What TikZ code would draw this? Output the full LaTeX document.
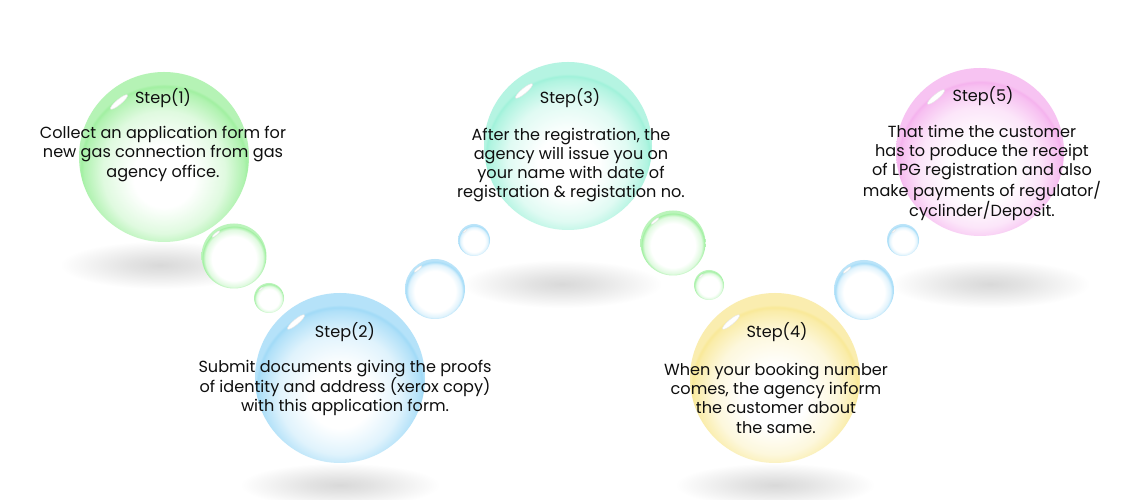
\documentclass[tikz,border=0pt]{standalone}
\usepackage{fontspec}
\setmainfont{Poppins}
\usetikzlibrary{calc}
\definecolor{cG}{RGB}{150,238,150}
\definecolor{cB}{RGB}{150,214,246}
\definecolor{cC}{RGB}{150,240,214}
\definecolor{cY}{RGB}{248,230,140}
\definecolor{cP}{RGB}{244,170,236}
\definecolor{txt}{RGB}{15,15,15}
\newcommand{\declbig}[2]{%
  \pgfdeclareradialshading{big#1}{\pgfpoint{0bp}{-7bp}}{color(0bp)=(white); color(9bp)=(white); color(18bp)=(#2!30); color(23.5bp)=(#2!75); color(24.4bp)=(#2!90); color(25bp)=(#2!70); color(50bp)=(#2!70)}%
  \pgfdeclareradialshading{small#1}{\pgfpoint{0bp}{-3bp}}{color(0bp)=(white); color(17bp)=(white); color(22bp)=(#2!30); color(24.3bp)=(#2!90); color(25bp)=(#2!65); color(50bp)=(#2!65)}%
}
\declbig{G}{cG}
\declbig{B}{cB}
\declbig{C}{cC}
\declbig{Y}{cY}
\declbig{P}{cP}
\pgfdeclareradialshading{shadowsh}{\pgfpoint{0bp}{0bp}}{color(0bp)=(black!15); color(8bp)=(black!11); color(25bp)=(white); color(50bp)=(white)}
\tikzset{
  bubble/.style={circle, inner sep=0pt, minimum size=#1},
  steptext/.style={align=center, text=txt, font={\fontsize{16.1}{19.3}\selectfont}},
  steplabel/.style={text=txt, font={\fontsize{16.1}{19}\selectfont}},
  gloss/.style={fill=white, draw=black!10, line width=0.4pt}
}
\newcommand{\glint}[4]{% coordinate, dx, dy, size factor
  \begin{scope}[shift={($(#1)+(#2,#3)$)}, rotate=40]
    \path[gloss] (0,0) ellipse ({11*#4} and {2.6*#4});
  \end{scope}}
\begin{document}
\begin{tikzpicture}[x=1pt,y=1pt]
\fill[white] (0,0) rectangle (1140,500);
\useasboundingbox (0,0) rectangle (1140,500);
% shadows
\path[shading=shadowsh] (160,235) ellipse (100 and 24);
\path[shading=shadowsh] (340,15) ellipse (100 and 22);
\path[shading=shadowsh] (562,216) ellipse (100 and 24);
\path[shading=shadowsh] (775,15) ellipse (100 and 22);
\path[shading=shadowsh] (990,216) ellipse (100 and 24);
% big bubbles
\node[bubble=170pt, shading=bigG] (b1) at (164,343) {};
\node[bubble=170pt, shading=bigB] (b2) at (340,122) {};
\node[bubble=168pt, shading=bigC] (b3) at (568,354) {};
\node[bubble=170pt, shading=bigY] (b4) at (775,122) {};
\node[bubble=168pt, shading=bigP] (b5) at (980,348) {};
% medium and small bubbles
\node[bubble=65pt, shading=smallG] (g1) at (234,244) {};
\node[bubble=30pt, shading=smallG] (g1s) at (269,202) {};
\node[bubble=60pt, shading=smallB] (m1) at (435,211) {};
\node[bubble=32pt, shading=smallB] (m1s) at (474,260) {};
\node[bubble=65pt, shading=smallG] (g2) at (673,257) {};
\node[bubble=30pt, shading=smallG] (g2s) at (709,215) {};
\node[bubble=60pt, shading=smallB] (m2) at (864,210) {};
\node[bubble=32pt, shading=smallB] (m2s) at (903,260) {};
% glints
\glint{b1}{-45}{55}{1}
\glint{b2}{-44}{56}{1}
\glint{b3}{-44}{55}{1}
\glint{b4}{-44}{56}{1}
\glint{b5}{-44}{55}{1}
\glint{g1}{-18}{22}{0.45}
\glint{g1s}{-8}{9}{0.25}
\glint{m1}{-17}{20}{0.45}
\glint{m1s}{-9}{9}{0.25}
\glint{g2}{-18}{22}{0.45}
\glint{g2s}{-8}{9}{0.25}
\glint{m2}{-17}{20}{0.45}
\glint{m2s}{-9}{9}{0.25}
% texts
\node[steplabel] (s1) at (163,402) {Step(1)};
\node[steptext] (t1) at (163,346) {Collect an application form for\\new gas connection from gas\\agency office.};
\node[steplabel] (s2) at (345,168) {Step(2)};
\node[steptext] (t2) at (345,112) {Submit documents giving the proofs\\of identity and address (xerox copy)\\with this application form.};
\node[steplabel] (s3) at (570,402) {Step(3)};
\node[steptext] (t3) at (571,335) {After the registration, the\\agency will issue you on\\your name with date of\\registration \& registation no.};
\node[steplabel] (s4) at (777,168) {Step(4)};
\node[steptext] (t4) at (776,102) {When your booking number\\comes, the agency inform\\the customer about\\the same.};
\node[steplabel] (s5) at (983,404) {Step(5)};
\node[steptext] (t5) at (982,327) {That time the customer\\has to produce the receipt\\of LPG registration and also\\make payments of regulator/\\cyclinder/Deposit.};
\end{tikzpicture}
\end{document}
